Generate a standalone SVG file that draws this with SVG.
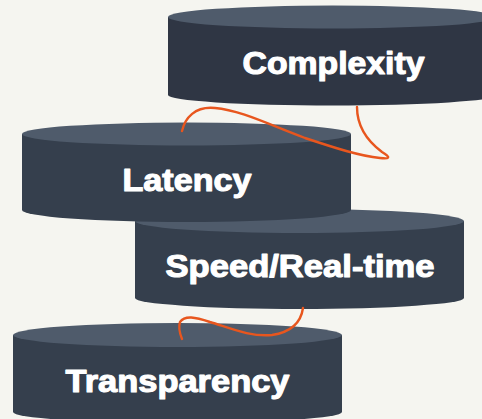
<svg xmlns="http://www.w3.org/2000/svg" width="482" height="419" viewBox="0 0 482 419">
  <style>
    .body { fill: #353f4d; }
    .body-dark { fill: #2f3644; }
    .lid { fill: #4f5b6b; }
    .label { font-family: "Liberation Sans", Arial, sans-serif; font-weight: bold; font-size: 30.5px; fill: #ffffff; stroke: #ffffff; stroke-width: 1.1; stroke-linejoin: round; text-anchor: middle; }
    .link { fill: none; stroke: #e8561e; stroke-width: 2.4; stroke-linecap: round; }
  </style>
  <rect width="482" height="419" fill="#f5f5f0"/>

  <!-- bottom layer first so upper cylinders overlap it -->
  <g id="transparency">
    <path class="body" d="M13,335 L13,412 A164.5,11 0 0 0 342,412 L342,335 Z"/>
    <ellipse class="lid" cx="177.5" cy="335" rx="164.5" ry="12"/>
    <text class="label" x="177.5" y="392" textLength="224" lengthAdjust="spacingAndGlyphs">Transparency</text>
  </g>

  <g id="speed">
    <path class="body" d="M135,221 L135,298 A164.5,11 0 0 0 464,298 L464,221 Z"/>
    <ellipse class="lid" cx="299.5" cy="221" rx="164.5" ry="12"/>
    <text class="label" x="300" y="277" textLength="269" lengthAdjust="spacingAndGlyphs">Speed/Real-time</text>
  </g>

  <g id="latency">
    <path class="body" d="M22,134 L22,210 A164.5,12 0 0 0 351,210 L351,134 Z"/>
    <ellipse class="lid" cx="186.5" cy="134" rx="164.5" ry="11.5"/>
    <text class="label" x="187" y="191" textLength="129" lengthAdjust="spacingAndGlyphs">Latency</text>
  </g>

  <g id="complexity">
    <path class="body-dark" d="M168,17 L168,95 A164.5,10.5 0 0 0 497,95 L497,17 Z"/>
    <ellipse class="lid" cx="332.5" cy="17" rx="164.5" ry="11.5"/>
    <text class="label" x="333.5" y="74" textLength="182" lengthAdjust="spacingAndGlyphs">Complexity</text>
  </g>

  <g id="connectors">
    <path class="link" d="M357,107 C357,125 366,140 382,152 C392,158 389,159 380,158 C360,156 335,148 305,138 C270,125 240,110 215,108 C195,106 185,118 182,131"/>
    <path class="link" d="M303,308 C301,322 292,332 272,335 C250,337 230,328 210,322 C195,317 185,315 180,322 C178,328 180,334 182,339"/>
  </g>
</svg>
